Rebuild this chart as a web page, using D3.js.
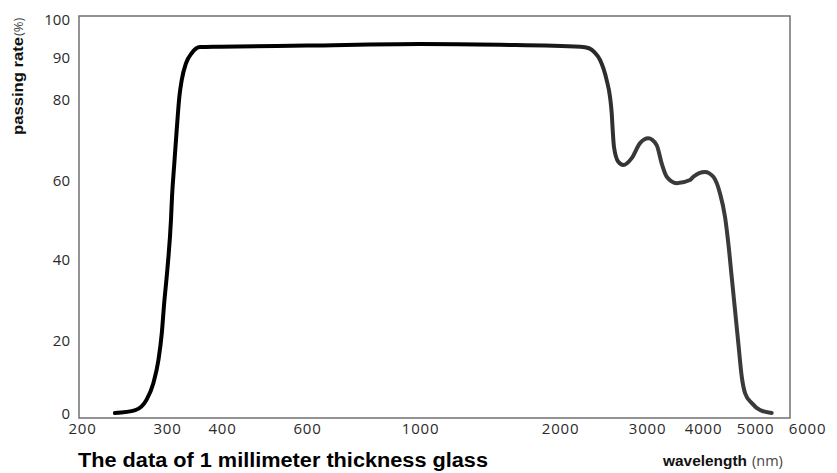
<!DOCTYPE html>
<html>
<head>
<meta charset="utf-8">
<script src="https://cdn.jsdelivr.net/npm/d3@7"></script>
<style>
  html, body { margin: 0; padding: 0; background: #fff; }
  svg { display: block; }
</style>
</head>
<body>
<svg id="chart" width="837" height="473"></svg>
<script>
// ---- data ----
const xTicks = [200, 300, 400, 600, 1000, 2000, 3000, 4000, 5000, 6000];
const yTicks = [0, 20, 40, 60, 80, 90, 100];
const wavelength = [234, 258, 272, 281, 288, 292.6, 296, 300.5, 306.3, 308, 311.7, 315.6, 320, 324, 331.3, 341.3, 356.5, 395,
  600, 1000, 1486, 2200, 2290, 2350, 2410, 2486, 2525, 2545, 2557, 2572, 2624, 2687, 2794, 2904, 3020, 3153, 3235, 3320, 3494,
  3742, 3806, 4034, 4181, 4303, 4396, 4459, 4524, 4589, 4655, 4724, 4793, 4932, 5088, 5301];
const passingRate = [0, 0.8, 3.6, 8.1, 14.5, 21.6, 29.1, 37.3, 49.9, 55.8, 64.1, 72.3, 80.5, 84.5, 88.5, 91.0, 92.6, 92.7,
  93.0, 93.4, 93.2, 92.7, 92.3, 91.2, 89.3, 84.5, 80.5, 76.5, 72.3, 68.2, 64.5, 63.7, 65.4, 69.1, 70.3, 68.6, 64.1, 60.8, 59.2,
  60.0, 60.8, 62.0, 60.8, 56.6, 50.7, 44.0, 35.6, 27.4, 19.1, 9.9, 5.4, 2.7, 0.8, 0];
const title = "The data of 1 millimeter thickness glass";

// ---- layout ----
const svg = d3.select("#chart");
const frame = { left: 79, top: 16, right: 790, bottom: 418 };
const xTickPx = [82, 167, 222, 307, 420, 560, 647, 703, 755, 807];
const yTickPx = [413, 340, 259, 180, 99, 57, 19];

// piecewise log scale for the wavelength axis
const xs = d3.scaleLinear().domain(xTicks.map(Math.log10)).range(xTickPx);
const x = v => xs(Math.log10(v));
const y = d3.scaleLinear().domain(yTicks).range(yTickPx);

// gradient for the curve
const defs = svg.append("defs");
const grad = defs.append("linearGradient").attr("id", "lineGrad")
  .attr("gradientUnits", "userSpaceOnUse").attr("x1", 480).attr("x2", 640).attr("y1", 0).attr("y2", 0);
grad.append("stop").attr("offset", "0%").attr("stop-color", "#000");
grad.append("stop").attr("offset", "100%").attr("stop-color", "#3a3a3a");

// frame
svg.append("rect")
  .attr("x", frame.left).attr("y", frame.top)
  .attr("width", frame.right - frame.left).attr("height", frame.bottom - frame.top)
  .attr("fill", "none").attr("stroke", "#707070").attr("stroke-width", 1.5);

// y axis
const yAxis = svg.append("g").attr("transform", `translate(${frame.left},0)`)
  .call(d3.axisLeft(y).tickValues(yTicks).tickSize(0).tickPadding(9));
yAxis.select(".domain").remove();
yAxis.selectAll("text")
  .attr("font-family", "'Open Sans', sans-serif").attr("font-size", 15)
  .attr("fill", "#2a2a2a").attr("dy", "0.35em");

// x axis
const xAxis = svg.append("g").attr("transform", `translate(0,${frame.bottom})`)
  .call(d3.axisBottom(xs).tickValues(xTicks.map(Math.log10)).tickSize(0).tickPadding(5)
    .tickFormat(d => String(Math.round(Math.pow(10, d)))));
xAxis.select(".domain").remove();
xAxis.selectAll("text")
  .attr("font-family", "'Open Sans', sans-serif").attr("font-size", 15)
  .attr("letter-spacing", "0.8px")
  .attr("fill", "#2a2a2a");

// curve
const line = d3.line()
  .x((d, i) => x(wavelength[i]))
  .y((d, i) => y(passingRate[i]))
  .curve(d3.curveMonotoneX);
svg.append("path")
  .datum(wavelength)
  .attr("d", line)
  .attr("fill", "none")
  .attr("stroke", "url(#lineGrad)")
  .attr("stroke-width", 4)
  .attr("stroke-linecap", "round")
  .attr("stroke-linejoin", "round");

// title
svg.append("text")
  .attr("x", 78).attr("y", 467)
  .attr("font-family", "'Liberation Sans', Arial, sans-serif")
  .attr("font-weight", "bold").attr("font-size", 20)
  .attr("textLength", 410).attr("lengthAdjust", "spacingAndGlyphs")
  .attr("fill", "#000")
  .text(title);

// x axis label
svg.append("text")
  .attr("x", 663).attr("y", 466)
  .attr("font-family", "'Liberation Sans', Arial, sans-serif")
  .attr("font-weight", "bold").attr("font-size", 14.5)
  .attr("textLength", 84).attr("lengthAdjust", "spacingAndGlyphs")
  .attr("fill", "#111")
  .text("wavelength");
svg.append("text")
  .attr("x", 752).attr("y", 466)
  .attr("font-family", "'Open Sans', sans-serif")
  .attr("font-size", 14.5)
  .attr("fill", "#444")
  .text("(nm)");

// y axis label
const yl = svg.append("g").attr("transform", "translate(23,135) rotate(-90)");
yl.append("text")
  .attr("x", 0).attr("y", 0)
  .attr("font-family", "'Liberation Sans', Arial, sans-serif")
  .attr("font-weight", "bold").attr("font-size", 14)
  .attr("textLength", 98).attr("lengthAdjust", "spacingAndGlyphs")
  .attr("fill", "#111")
  .text("passing rate");
yl.append("text")
  .attr("x", 99).attr("y", 0)
  .attr("font-family", "'Open Sans', sans-serif")
  .attr("font-size", 13)
  .attr("fill", "#444")
  .text("(%)");
</script>
</body>
</html>
